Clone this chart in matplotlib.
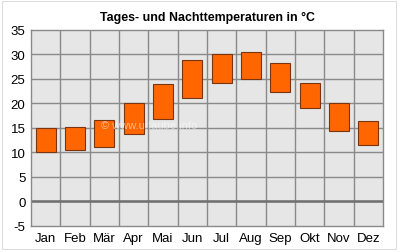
import matplotlib
matplotlib.use("Agg")
import matplotlib.pyplot as plt
from matplotlib.patches import Rectangle

months = ["Jan", "Feb", "Mär", "Apr", "Mai", "Jun", "Jul", "Aug", "Sep", "Okt", "Nov", "Dez"]
night = [10.1, 10.5, 11.2, 13.8, 16.8, 21.1, 24.2, 25.0, 22.3, 19.0, 14.4, 11.5]
day = [15.1, 15.2, 16.6, 20.0, 23.9, 28.9, 30.0, 30.6, 28.3, 24.1, 20.0, 16.4]
yticks = [-5, 0, 5, 10, 15, 20, 25, 30, 35]

plt.rcParams['font.family'] = ['Liberation Sans', 'DejaVu Sans']

fig = plt.figure(figsize=(4.0, 2.53), dpi=100)
fig.patch.set_facecolor("white")
fig.patches.append(Rectangle((0.006, 0.012), 0.984, 0.982, transform=fig.transFigure,
                             fill=False, edgecolor="#dddddd", linewidth=0.8))
ax = fig.add_axes([0.0775, 0.1028, 0.88, 0.7747])
ax.set_facecolor("#e6e6e6")

x = list(range(len(months)))
heights = [d - n for d, n in zip(day, night)]
ax.bar(x, heights, bottom=night, width=0.68, color="#ff6600", edgecolor="#7a3510",
       linewidth=0.8, zorder=3)

ax.set_xlim(-0.5, len(months) - 0.5)
ax.set_ylim(-5, 35)
ax.set_yticks(yticks)
ax.set_yticklabels([str(v) for v in yticks])
ax.set_xticks(x)
ax.set_xticklabels(months)
for b in [i + 0.5 for i in range(len(months) - 1)]:
    ax.axvline(b, color="#8a8a8a", linewidth=1.0, zorder=1)
for v in yticks[1:-1]:
    ax.axhline(v, color="#8a8a8a", linewidth=1.0, zorder=1)
ax.axhline(0, color="#707070", linewidth=1.8, zorder=2)
for s in ax.spines.values():
    s.set_color("#8a8a8a")
    s.set_linewidth(1.0)
ax.tick_params(length=0, labelsize=9.5, colors="black", pad=4)

ax.text(0.335, 0.515, "© www.urlaube.info", transform=ax.transAxes, fontsize=8,
        color="white", alpha=0.55, ha="center", va="center", zorder=4)

ax.set_title("Tages- und Nachttemperaturen in °C", fontsize=8.9, fontweight="bold", pad=7.5)

fig.savefig("out.png", dpi=100, facecolor="white")
